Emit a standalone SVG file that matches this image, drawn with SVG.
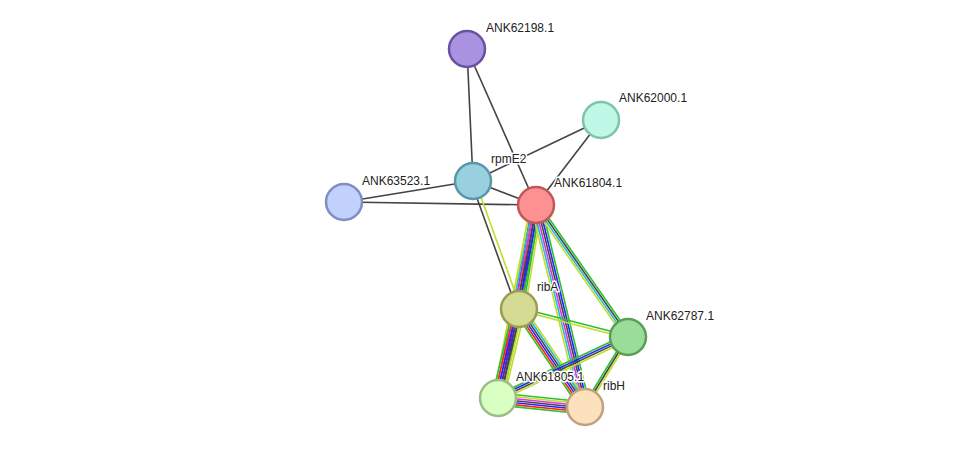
<svg xmlns="http://www.w3.org/2000/svg" width="976" height="453" viewBox="0 0 976 453">
<style>
line{stroke-width:1.6;fill:none}
.k{stroke:#444}.g{stroke:#2fbf2f}.y{stroke:#c2dc2a}.r{stroke:#f21}.b{stroke:#22f}.m{stroke:#d3d}.c{stroke:#2bd}.p{stroke:#5a2a9a}
circle{stroke-width:2.5}
text{font-family:"Liberation Sans",Arial,sans-serif;font-size:12px;fill:#222;paint-order:stroke;stroke:#fff;stroke-width:3px;stroke-linejoin:round}
</style>
<rect width="976" height="453" fill="#fff"/>
<g id="connectors">
<g><line class="k" x1="467" y1="49" x2="473" y2="181"/><line class="k" x1="467" y1="49" x2="536" y2="205"/><line class="k" x1="601" y1="120" x2="473" y2="181"/><line class="k" x1="601" y1="120" x2="536" y2="205"/><line class="k" x1="344" y1="202" x2="473" y2="181"/><line class="k" x1="344" y1="202" x2="536" y2="205"/><line class="k" x1="473" y1="181" x2="536" y2="205"/></g>
<g><line class="k" x1="473" y1="181" x2="519" y2="309" transform="translate(-1.9,0.7)"/><line class="y" x1="473" y1="181" x2="519" y2="309" transform="translate(1.9,-0.7)"/></g>
<g>
<line class="y" x1="536" y1="205" x2="519" y2="309" transform="translate(5.9,1)"/>
<line class="g" x1="536" y1="205" x2="519" y2="309" transform="translate(4,0.6)"/>
<line class="p" x1="536" y1="205" x2="519" y2="309" transform="translate(2,0.3)"/>
<line class="b" x1="536" y1="205" x2="519" y2="309"/>
<line class="r" x1="536" y1="205" x2="519" y2="309" transform="translate(-2,-0.3)"/>
<line class="k" x1="536" y1="205" x2="519" y2="309" transform="translate(-4,-0.6)"/>
<line class="y" x1="536" y1="205" x2="519" y2="309" transform="translate(-5.9,-1)"/>
</g>
<g>
<line class="g" x1="536" y1="205" x2="498" y2="398" transform="translate(4.9,1)"/>
<line class="b" x1="536" y1="205" x2="498" y2="398" transform="translate(2.9,0.6)"/>
<line class="k" x1="536" y1="205" x2="498" y2="398" transform="translate(1,0.2)"/>
<line class="m" x1="536" y1="205" x2="498" y2="398" transform="translate(-1,-0.2)"/>
<line class="c" x1="536" y1="205" x2="498" y2="398" transform="translate(-2.9,-0.6)"/>
<line class="y" x1="536" y1="205" x2="498" y2="398" transform="translate(-4.9,-1)"/>
</g>
<g>
<line class="g" x1="536" y1="205" x2="585" y2="407" transform="translate(4.9,-1.2)"/>
<line class="b" x1="536" y1="205" x2="585" y2="407" transform="translate(2.9,-0.7)"/>
<line class="k" x1="536" y1="205" x2="585" y2="407" transform="translate(1,-0.2)"/>
<line class="m" x1="536" y1="205" x2="585" y2="407" transform="translate(-1,0.2)"/>
<line class="c" x1="536" y1="205" x2="585" y2="407" transform="translate(-2.9,0.7)"/>
<line class="y" x1="536" y1="205" x2="585" y2="407" transform="translate(-4.9,1.2)"/>
</g>
<g>
<line class="g" x1="536" y1="205" x2="628" y2="337" transform="translate(2.5,-1.7)"/>
<line class="k" x1="536" y1="205" x2="628" y2="337" transform="translate(0.8,-0.6)"/>
<line class="c" x1="536" y1="205" x2="628" y2="337" transform="translate(-0.8,0.6)"/>
<line class="y" x1="536" y1="205" x2="628" y2="337" transform="translate(-2.5,1.7)"/>
</g>
<g>
<line class="y" x1="519" y1="309" x2="498" y2="398" transform="translate(5.8,1.4)"/>
<line class="y" x1="519" y1="309" x2="498" y2="398" transform="translate(3.9,0.9)"/>
<line class="k" x1="519" y1="309" x2="498" y2="398" transform="translate(1.9,0.5)"/>
<line class="p" x1="519" y1="309" x2="498" y2="398"/>
<line class="b" x1="519" y1="309" x2="498" y2="398" transform="translate(-1.9,-0.5)"/>
<line class="r" x1="519" y1="309" x2="498" y2="398" transform="translate(-3.9,-0.9)"/>
<line class="g" x1="519" y1="309" x2="498" y2="398" transform="translate(-5.8,-1.4)"/>
</g>
<g>
<line class="y" x1="519" y1="309" x2="585" y2="407" transform="translate(4.2,-2.8)"/>
<line class="c" x1="519" y1="309" x2="585" y2="407" transform="translate(2.5,-1.7)"/>
<line class="k" x1="519" y1="309" x2="585" y2="407" transform="translate(0.8,-0.6)"/>
<line class="b" x1="519" y1="309" x2="585" y2="407" transform="translate(-0.8,0.6)"/>
<line class="r" x1="519" y1="309" x2="585" y2="407" transform="translate(-2.5,1.7)"/>
<line class="g" x1="519" y1="309" x2="585" y2="407" transform="translate(-4.2,2.8)"/>
</g>
<g>
<line class="g" x1="519" y1="309" x2="628" y2="337" transform="translate(0.3,-1.2)"/>
<line class="y" x1="519" y1="309" x2="628" y2="337" transform="translate(-0.3,1.2)"/>
</g>
<g>
<line class="g" x1="498" y1="398" x2="585" y2="407" transform="translate(0.5,-5)"/>
<line class="y" x1="498" y1="398" x2="585" y2="407" transform="translate(0.3,-3)"/>
<line class="m" x1="498" y1="398" x2="585" y2="407" transform="translate(0.1,-1)"/>
<line class="k" x1="498" y1="398" x2="585" y2="407" transform="translate(-0.1,1)"/>
<line class="b" x1="498" y1="398" x2="585" y2="407" transform="translate(-0.3,3)"/>
<line class="r" x1="498" y1="398" x2="585" y2="407" transform="translate(-0.5,5)"/>
<line class="g" x1="498" y1="398" x2="585" y2="407" transform="translate(-0.7,7)"/>
</g>
<g>
<line class="g" x1="498" y1="398" x2="628" y2="337" transform="translate(-1.3,-2.7)"/>
<line class="b" x1="498" y1="398" x2="628" y2="337" transform="translate(-0.4,-0.9)"/>
<line class="k" x1="498" y1="398" x2="628" y2="337" transform="translate(0.4,0.9)"/>
<line class="y" x1="498" y1="398" x2="628" y2="337" transform="translate(1.3,2.7)"/>
</g>
<g>
<line class="g" x1="585" y1="407" x2="628" y2="337" transform="translate(-1.7,-1)"/>
<line class="k" x1="585" y1="407" x2="628" y2="337"/>
<line class="y" x1="585" y1="407" x2="628" y2="337" transform="translate(1.7,1)"/>
</g>
</g>
<g id="ANK62198.1"><circle cx="467" cy="49" r="18" fill="#a992e0" stroke="#6a52a3"/><text x="486" y="32">ANK62198.1</text></g>
<g id="ANK62000.1"><circle cx="601" cy="120" r="18" fill="#bff8e6" stroke="#7fc4ab"/><text x="619" y="102">ANK62000.1</text></g>
<g id="rpmE2"><circle cx="473" cy="181" r="18" fill="#99d0df" stroke="#5a97a8"/><text x="491" y="163">rpmE2</text></g>
<g id="ANK63523.1"><circle cx="344" cy="202" r="18" fill="#c2d0fc" stroke="#7f8fc4"/><text x="362" y="185">ANK63523.1</text></g>
<g id="ANK61804.1"><circle cx="536" cy="205" r="18" fill="#fd9090" stroke="#c05858"/><text x="554" y="187">ANK61804.1</text></g>
<g id="ribA"><circle cx="519" cy="309" r="18" fill="#d6db94" stroke="#9a9d55"/><text x="537" y="291">ribA</text></g>
<g id="ANK62787.1"><circle cx="628" cy="337" r="18" fill="#99dd99" stroke="#5a9e5a"/><text x="646" y="320">ANK62787.1</text></g>
<g id="ANK61805.1"><circle cx="498" cy="398" r="18" fill="#daffc2" stroke="#98bf88"/><text x="516" y="381">ANK61805.1</text></g>
<g id="ribH"><circle cx="585" cy="407" r="18" fill="#fde0bc" stroke="#c2a27c"/><text x="603" y="390">ribH</text></g>
</svg>
